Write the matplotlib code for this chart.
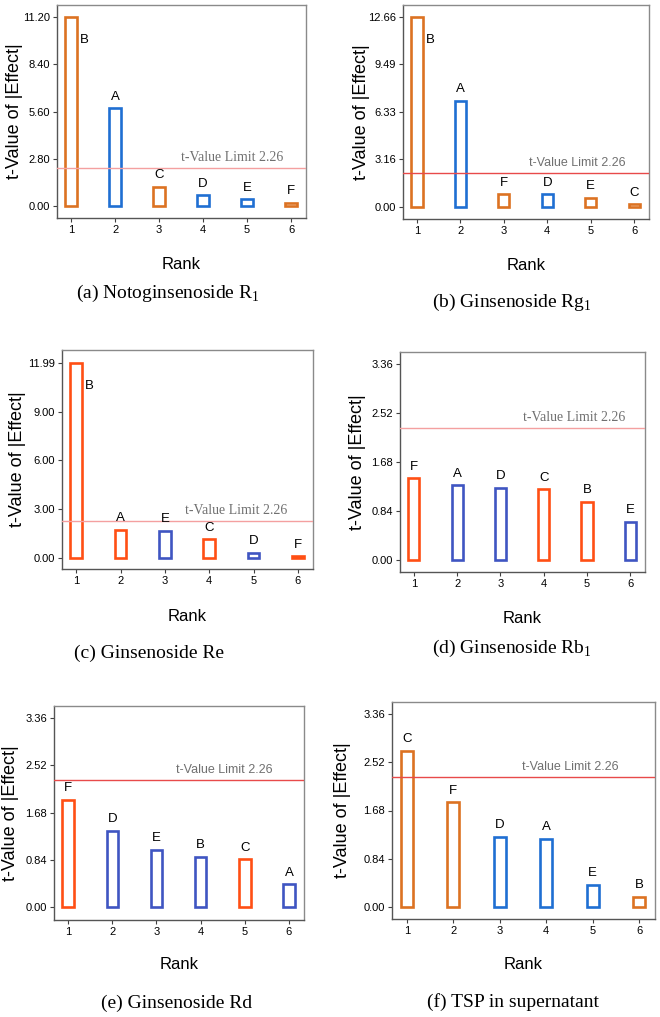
import matplotlib
matplotlib.use("Agg")
import matplotlib.pyplot as plt

W, H = 660, 1017

RANKS = [1, 2, 3, 4, 5, 6]
T_LIMIT = 2.26

# factor letters (ordered by rank) and t-values of |effect|
a_factors = ["B", "A", "C", "D", "E", "F"]
a_values = [11.20, 5.79, 1.13, 0.63, 0.38, 0.16]
a_signs = ["+", "-", "+", "-", "-", "+"]
a_yticks = [0.00, 2.80, 5.60, 8.40, 11.20]

b_factors = ["B", "A", "F", "D", "E", "C"]
b_values = [12.66, 7.06, 0.84, 0.84, 0.58, 0.16]
b_signs = ["+", "-", "+", "-", "+", "+"]
b_yticks = [0.00, 3.16, 6.33, 9.49, 12.66]

c_factors = ["B", "A", "E", "C", "D", "F"]
c_values = [11.99, 1.70, 1.66, 1.13, 0.29, 0.08]
c_signs = ["+", "+", "-", "+", "-", "+"]
c_yticks = [0.00, 3.00, 6.00, 9.00, 11.99]

d_factors = ["F", "A", "D", "C", "B", "E"]
d_values = [1.40, 1.28, 1.24, 1.21, 1.00, 0.65]
d_signs = ["+", "-", "-", "+", "+", "-"]
d_yticks = [0.00, 0.84, 1.68, 2.52, 3.36]

e_factors = ["F", "D", "E", "B", "C", "A"]
e_values = [1.91, 1.36, 1.02, 0.90, 0.85, 0.41]
e_signs = ["+", "-", "-", "-", "+", "-"]
e_yticks = [0.00, 0.84, 1.68, 2.52, 3.36]

f_factors = ["C", "F", "D", "A", "E", "B"]
f_values = [2.72, 1.82, 1.22, 1.19, 0.39, 0.18]
f_signs = ["+", "+", "-", "-", "-", "+"]
f_yticks = [0.00, 0.84, 1.68, 2.52, 3.36]

captions = [
    r"(a) Notoginsenoside R$_{\mathregular{1}}$",
    r"(b) Ginsenoside Rg$_{\mathregular{1}}$",
    "(c) Ginsenoside Re",
    r"(d) Ginsenoside Rb$_{\mathregular{1}}$",
    "(e) Ginsenoside Rd",
    "(f) TSP in supernatant",
]

# two colour schemes seen in the source panels
WARM = {"+": "#dc7222", "-": "#1f6fd2", "line": "#e84a4a"}
HOT = {"+": "#ff4f14", "-": "#3f55c2", "line": "#f4a0a0"}

# pixel layout: axes box (left, right, top, bottom), ylim, label and caption centres
panels = [
    dict(fac=a_factors, val=a_values, sg=a_signs, yt=a_yticks, box=(57, 306, 5, 218),
         ylim=(-0.73, 11.93), pal=HOT | {"+": "#dc7222", "-": "#1f6fd2"}, serif=True,
         txt_x=3.49, side=True, cap=(168, 293), rank_y=265, ylab_x=15),
    dict(fac=b_factors, val=b_values, sg=b_signs, yt=b_yticks, box=(403, 649, 5, 219),
         ylim=(-0.82, 13.46), pal=WARM, serif=False,
         txt_x=3.59, side=True, cap=(512, 302), rank_y=266, ylab_x=362),
    dict(fac=c_factors, val=c_values, sg=c_signs, yt=c_yticks, box=(62, 313, 350, 569),
         ylim=(-0.70, 12.79), pal=HOT, serif=True,
         txt_x=3.45, side=True, cap=(149, 653), rank_y=617, ylab_x=18),
    dict(fac=d_factors, val=d_values, sg=d_signs, yt=d_yticks, box=(400, 645, 352, 572),
         ylim=(-0.21, 3.57), pal=HOT, serif=True,
         txt_x=3.52, side=False, cap=(512, 648), rank_y=619, ylab_x=358),
    dict(fac=e_factors, val=e_values, sg=e_signs, yt=e_yticks, box=(54, 304, 706, 920),
         ylim=(-0.225, 3.57), pal=HOT | {"line": "#e84a4a"}, serif=False,
         txt_x=3.45, side=False, cap=(177, 1003), rank_y=965, ylab_x=11),
    dict(fac=f_factors, val=f_values, sg=f_signs, yt=f_yticks, box=(392, 655, 702, 919),
         ylim=(-0.21, 3.57), pal=WARM, serif=False,
         txt_x=3.48, side=False, cap=(513, 1002), rank_y=965, ylab_x=343),
]

plt.rcParams["font.family"] = ["Liberation Sans", "DejaVu Sans"]

fig = plt.figure(figsize=(W / 100, H / 100), dpi=100)

for p, cap in zip(panels, captions):
    l, r, t, b = p["box"]
    ax = fig.add_axes([l / W, 1 - b / H, (r - l) / W, (b - t) / H])
    pal = p["pal"]
    cols = [pal[s] for s in p["sg"]]
    ax.bar(RANKS, p["val"], width=0.26, facecolor="white", edgecolor=cols,
           linewidth=1.9, zorder=2)
    ax.axhline(T_LIMIT, color=pal["line"], lw=1.0, zorder=3)
    if p["serif"]:
        ax.annotate("t-Value Limit 2.26", xy=(p["txt_x"], T_LIMIT), xytext=(0, 3),
                    textcoords="offset points", fontsize=10, color="#707070",
                    family="Liberation Serif", va="bottom")
    else:
        ax.annotate("t-Value Limit 2.26", xy=(p["txt_x"], T_LIMIT), xytext=(0, 3),
                    textcoords="offset points", fontsize=9, color="#707070",
                    va="bottom")

    for i, (x, v, name) in enumerate(zip(RANKS, p["val"], p["fac"])):
        if i == 0 and p["side"]:
            ax.text(x + 0.3, v * 0.88, name, fontsize=9.5, ha="center", va="center")
        else:
            ax.annotate(name, xy=(x, v), xytext=(0, 4), textcoords="offset points",
                        fontsize=9.5, ha="center", va="bottom")

    ax.set_xlim(0.68, 6.34)
    ax.set_ylim(*p["ylim"])
    ax.set_xticks(RANKS)
    ax.set_yticks(p["yt"])
    ax.set_yticklabels([f"{v:.2f}" for v in p["yt"]])
    ax.tick_params(labelsize=8, length=3, width=0.8, color="#404040", pad=2)
    for s in ax.spines.values():
        s.set_color("#8a8a8a")
        s.set_linewidth(1.0)
    ax.spines["left"].set_color("#555555")
    ax.spines["bottom"].set_color("#555555")

    # ylabel anchor is the right edge of the rotated text
    ax.set_ylabel("t-Value of |Effect|", fontsize=13)
    ax.yaxis.set_label_coords((p["ylab_x"] + 8 - l) / (r - l), 0.5)
    # xlabel anchor is the top of the text
    ax.set_xlabel("Rank", fontsize=12)
    ax.xaxis.set_label_coords(0.5, (b - (p["rank_y"] - 8)) / (b - t))

    cx, cy = p["cap"]
    fig.text(cx / W, 1 - cy / H, cap, fontsize=14, family="Liberation Serif",
             ha="center", va="center")

fig.savefig("out.png", dpi=100)
